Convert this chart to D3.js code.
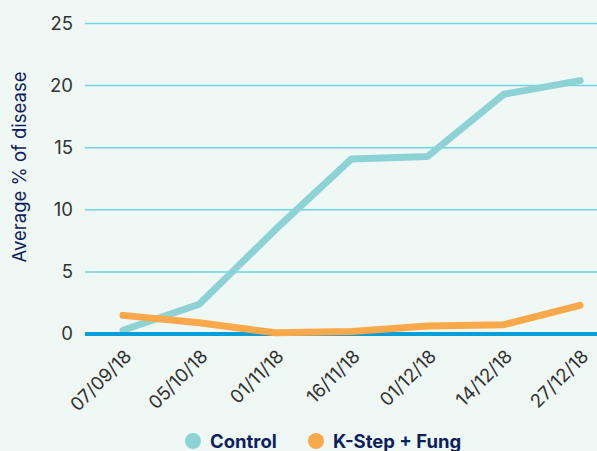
<!DOCTYPE html>
<html><head><meta charset="utf-8">
<script src="https://cdn.jsdelivr.net/npm/d3@7"></script>
<style>body{margin:0;background:#f0f8f6;}svg{display:block;font-family:Inter,"Noto Sans",sans-serif;}</style>
</head><body>
<script>
const categories = ["07/09/18","05/10/18","01/11/18","16/11/18","01/12/18","14/12/18","27/12/18"];
const controlValues = [0.3, 2.4, 8.4, 14.1, 14.3, 19.3, 20.4];
const kstepValues = [1.5, 0.9, 0.1, 0.2, 0.65, 0.75, 2.3];
const yTicks = [0,5,10,15,20,25];
const seriesNames = ["Control","K-Step + Fung"];
const colors = ["#8dd3d6","#f9a84a"];

const W=597,H=451;
const svg=d3.select("body").append("svg").attr("width",W).attr("height",H);
svg.append("rect").attr("width",W).attr("height",H).attr("fill","#f0f8f6");
const x=d3.scalePoint().domain(categories).range([123,580]);
const y=d3.scaleLinear().domain([0,25]).range([334,23.5]);
const gx0=85,gx1=597;

svg.append("g").selectAll("line").data(yTicks.filter(d=>d>0)).join("line")
 .attr("x1",gx0).attr("x2",gx1).attr("y1",d=>y(d)).attr("y2",d=>y(d))
 .attr("stroke","#6fd5e5").attr("stroke-width",1.5);
svg.append("g").selectAll("text").data(yTicks).join("text")
 .attr("x",73).attr("y",d=>y(d)).attr("dy","0.35em").attr("text-anchor","end")
 .attr("font-size",18.5).attr("fill","#333").text(d=>d);
svg.append("text").attr("transform","translate(20,167) rotate(-90)")
 .attr("text-anchor","middle").attr("dy","0.35em").attr("font-size",18.5).attr("fill","#0d1f5c").text("Average % of disease");
svg.append("g").selectAll("text").data(categories).join("text")
 .attr("transform",d=>`translate(${x(d)+5},${353}) rotate(-45)`)
 .attr("text-anchor","end").attr("dy","0.35em").attr("font-size",18.5).attr("fill","#333").text(d=>d);

const line=d3.line().x((d,i)=>x(categories[i])).y(d=>y(d));
svg.append("path").attr("d",line(controlValues)).attr("fill","none").attr("stroke",colors[0])
  .attr("stroke-width",7).attr("stroke-linecap","round").attr("stroke-linejoin","round");
svg.append("line").attr("x1",gx0).attr("x2",gx1).attr("y1",y(0)).attr("y2",y(0))
 .attr("stroke","#0a9fd8").attr("stroke-width",4);
svg.append("path").attr("d",line(kstepValues)).attr("fill","none").attr("stroke",colors[1])
  .attr("stroke-width",7).attr("stroke-linecap","round").attr("stroke-linejoin","round");

const leg=svg.append("g");
const lx=[193,316];
seriesNames.forEach((n,i)=>{
 leg.append("circle").attr("cx",lx[i]).attr("cy",441).attr("r",8).attr("fill",colors[i]);
 leg.append("text").attr("x",lx[i]+17).attr("y",442).attr("dy","0.35em").attr("font-size",18.5)
  .attr("font-weight","bold").attr("fill","#0d1f5c").text(n);
});
</script>
</body></html>
